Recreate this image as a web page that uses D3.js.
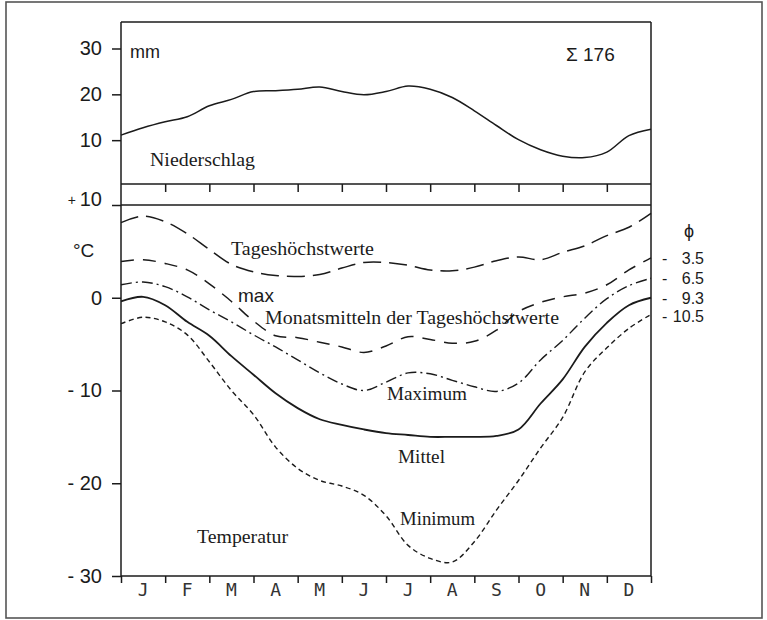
<!DOCTYPE html>
<html>
<head>
<meta charset="utf-8">
<script src="https://cdn.jsdelivr.net/npm/d3@7"></script>
<style>
  body { margin: 0; background: #fff; }
  .serif { font-family: "Liberation Serif", "Times New Roman", serif; }
  .sans { font-family: "Liberation Sans", Arial, sans-serif; }
</style>
</head>
<body>
<div id="chart"></div>
<script>
// month labels and the half-month positions the curves were read at
const monthLabels = ["J", "F", "M", "A", "M", "J", "J", "A", "S", "O", "N", "D"];
const monthPos = [0, 0.5, 1, 1.5, 2, 2.5, 3, 3.5, 4, 4.5, 5, 5.5, 6, 6.5, 7, 7.5, 8, 8.5, 9, 9.5, 10, 10.5, 11, 11.5, 12];

// Niederschlag (mm)
const precip = [11.1, 12.7, 14.0, 15.1, 17.5, 18.9, 20.6, 20.8, 21.1, 21.6, 20.6, 19.9, 20.6, 21.8, 21.1, 19.3, 16.4, 13.2, 10.1, 7.9, 6.5, 6.2, 7.4, 11.0, 12.4];
const precipTicks = [10, 20, 30];
const precipSum = 176;

// Temperatur (°C)
const tagesHoechst = [8.1, 8.8, 8.2, 6.9, 5.2, 3.6, 2.8, 2.4, 2.3, 2.5, 3.2, 3.8, 3.8, 3.5, 3.0, 2.9, 3.3, 4.0, 4.4, 4.1, 4.9, 5.6, 6.7, 7.6, 9.1];
const maxMittel = [3.9, 4.1, 3.7, 3.0, 1.5, -0.4, -2.5, -4.1, -4.3, -4.8, -5.3, -5.9, -5.2, -4.2, -4.5, -4.9, -4.7, -3.5, -1.5, -0.5, 0.1, 0.5, 1.4, 3.0, 4.3];
const maximum = [1.4, 1.7, 1.2, 0.1, -1.3, -2.6, -4.0, -5.3, -6.7, -8.1, -9.3, -10.0, -9.1, -8.1, -8.2, -8.9, -9.6, -10.1, -9.2, -6.7, -4.6, -2.2, -0.1, 1.3, 2.1];
const mittel = [-0.4, 0.1, -0.8, -2.6, -4.1, -6.3, -8.3, -10.3, -11.9, -13.1, -13.7, -14.2, -14.6, -14.8, -15.0, -15.0, -15.0, -14.9, -14.2, -11.4, -8.8, -5.3, -2.7, -0.8, 0.0];
const minimum = [-2.8, -2.1, -2.6, -4.0, -6.9, -10.0, -12.6, -16.1, -18.4, -19.7, -20.3, -21.3, -23.5, -26.7, -28.1, -28.5, -26.3, -22.9, -19.7, -16.2, -12.9, -8.0, -5.4, -3.3, -1.8];
const tempTicks = [10, 0, -10, -20, -30];
// annual means (ϕ) for the four lower curves
const meanValues = [3.5, 6.5, 9.3, 10.5];

const W = 767, H = 620;
const svg = d3.select('#chart').append('svg')
    .attr('width', W)
    .attr('height', H);

const left = 121, right = 651;
const x = d3.scaleLinear().domain([0, 12]).range([left, right]);
const yP = d3.scaleLinear().domain([0, 30]).range([186, 48.5]);
const yT = d3.scaleLinear().domain([-30, 10]).range([576, 205]);

const ink = '#1b1b1b';

// outer frame
svg.append('rect')
    .attr('x', 6).attr('y', 2).attr('width', 756).attr('height', 616)
    .attr('fill', 'none').attr('stroke', '#555').attr('stroke-width', 1.6);

// panel frame
const frame = svg.append('g').attr('stroke', ink).attr('stroke-width', 1.5).attr('fill', 'none');
frame.append('line').attr('x1', left).attr('x2', right).attr('y1', 22).attr('y2', 22);
frame.append('line').attr('x1', left).attr('x2', right).attr('y1', 184).attr('y2', 184);
frame.append('line').attr('x1', left).attr('x2', right).attr('y1', yT(10)).attr('y2', yT(10));
frame.append('line').attr('x1', left).attr('x2', right).attr('y1', yT(-30)).attr('y2', yT(-30));
frame.append('line').attr('x1', left).attr('x2', left).attr('y1', 22).attr('y2', yT(-30));
frame.append('line').attr('x1', right).attr('x2', right).attr('y1', 22).attr('y2', yT(-30));

// band ticks between the two panels
svg.append('g')
    .attr('transform', 'translate(0,184)')
    .call(d3.axisBottom(x).tickValues(d3.range(1, 12)).tickSize(8).tickFormat(''))
    .call(g => g.select('.domain').remove())
    .selectAll('line').attr('stroke', ink).attr('stroke-width', 1.5);

// month axis at the bottom
svg.append('g')
    .attr('transform', 'translate(0,' + yT(-30) + ')')
    .call(d3.axisBottom(x).tickValues(d3.range(0, 13)).tickSize(7).tickFormat(''))
    .call(g => g.select('.domain').remove())
    .selectAll('line').attr('stroke', ink).attr('stroke-width', 1.5);

svg.append('g').selectAll('text')
    .data(monthLabels)
    .join('text')
    .attr('x', (d, i) => x(i + 0.5))
    .attr('y', 596)
    .attr('text-anchor', 'middle')
    .attr('font-family', '"DejaVu Sans Mono", monospace')
    .attr('font-size', 18)
    .attr('fill', '#333')
    .text(d => d);

// precipitation axis
svg.append('g')
    .attr('transform', 'translate(' + left + ',0)')
    .call(d3.axisLeft(yP).tickValues(precipTicks).tickSize(9).tickPadding(10))
    .call(g => g.select('.domain').remove())
    .call(g => g.selectAll('line').attr('stroke', ink).attr('stroke-width', 1.5))
    .call(g => g.selectAll('text').attr('class', 'sans').attr('font-size', 20).attr('fill', ink));

// temperature axis
svg.append('g')
    .attr('transform', 'translate(' + left + ',0)')
    .call(d3.axisLeft(yT).tickValues(tempTicks).tickSize(9).tickPadding(10)
        .tickFormat(d => d > 0 ? '+' + d : d < 0 ? '- ' + (-d) : '' + d))
    .call(g => g.select('.domain').remove())
    .call(g => g.selectAll('line').attr('stroke', ink).attr('stroke-width', 1.5))
    .call(g => g.selectAll('text').attr('class', 'sans').attr('font-size', 20).attr('fill', ink))
    .call(g => g.selectAll('text').filter(d => d > 0).each(function(d) {
        const t = d3.select(this).text('');
        t.append('tspan').attr('font-size', 14).attr('dy', '-0.05em').text('+ ');
        t.append('tspan').attr('dy', '0.05em').text(d);
    }));

// curves
const line = yScale => d3.line()
    .x((d, i) => x(monthPos[i]))
    .y(d => yScale(d))
    .curve(d3.curveCatmullRom.alpha(0.5));

svg.append('path')
    .datum(precip)
    .attr('d', line(yP))
    .attr('fill', 'none').attr('stroke', ink).attr('stroke-width', 1.5);

const tempSeries = [
    { values: tagesHoechst, dash: '18,8', width: 1.5 },
    { values: maxMittel, dash: '13,9', width: 1.5 },
    { values: maximum, dash: '11,4,2,4', width: 1.4 },
    { values: mittel, dash: null, width: 1.8 },
    { values: minimum, dash: '5,3.5', width: 1.4 }
];

svg.append('g').selectAll('path')
    .data(tempSeries)
    .join('path')
    .attr('d', d => line(yT)(d.values))
    .attr('fill', 'none')
    .attr('stroke', ink)
    .attr('stroke-width', d => d.width)
    .attr('stroke-dasharray', d => d.dash);

// texts
function label(txt, px, py, cls, size, len) {
    const t = svg.append('text')
        .attr('class', cls)
        .attr('x', px).attr('y', py)
        .attr('font-size', size)
        .attr('fill', ink)
        .text(txt);
    if (len) t.attr('textLength', len).attr('lengthAdjust', 'spacingAndGlyphs');
    return t;
}

label('mm', 130, 58, 'sans', 18);
label('Σ ' + precipSum, 566, 61, 'sans', 19);
label('Niederschlag', 150, 166, 'serif', 19.5, 105);
label('°C', 73, 257, 'sans', 19);

label('Tageshöchstwerte', 231, 255, 'serif', 19.8, 143);
label('max', 238, 302, 'sans', 19);
label('Monatsmitteln der Tageshöchstwerte', 265, 324, 'serif', 19.8, 294);
label('Maximum', 387, 400, 'serif', 19.5, 80);
label('Mittel', 398, 463, 'serif', 19.5, 47);
label('Minimum', 400, 525, 'serif', 19.5, 75);
label('Temperatur', 197, 543, 'serif', 19.5, 91);

// ϕ column at the right end of the curves
label('ϕ', 684, 237, 'sans', 18);
const ends = tempSeries.slice(1).map(s => s.values[s.values.length - 1]);
const meanG = svg.append('g').selectAll('g')
    .data(meanValues)
    .join('g')
    .attr('transform', (d, i) => 'translate(0,' + (yT(ends[i]) + 6 + (i == 3 ? 1.5 : 0)) + ')');
meanG.append('text')
    .attr('class', 'sans').attr('x', 662).attr('font-size', 16).attr('fill', ink)
    .text('-');
meanG.append('text')
    .attr('class', 'sans').attr('x', 704).attr('text-anchor', 'end').attr('font-size', 16).attr('fill', ink)
    .text(d => d3.format('.1f')(d));
</script>
</body>
</html>
